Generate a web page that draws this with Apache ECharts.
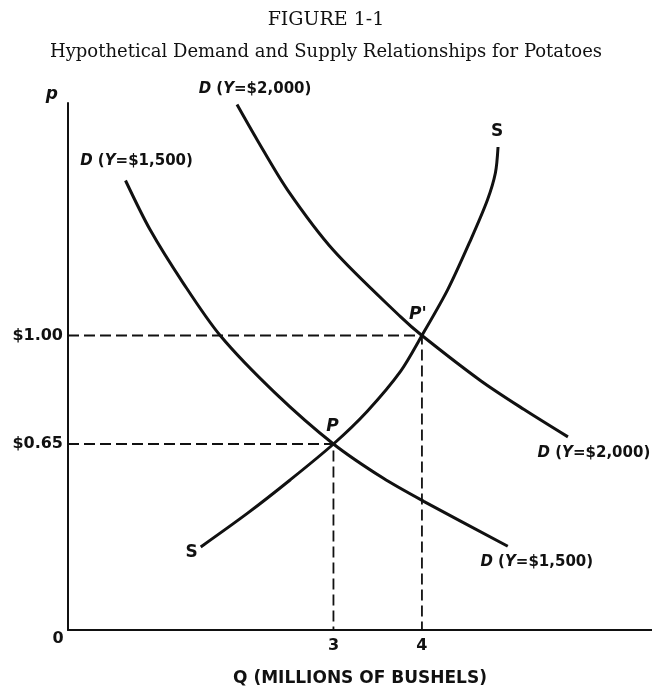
<!DOCTYPE html>
<html>
<head>
<meta charset="utf-8">
<script src="https://cdn.jsdelivr.net/npm/echarts@6/dist/echarts.min.js"></script>
<style>
  html, body { margin: 0; padding: 0; background: #fff; }
  #chart { width: 652px; height: 686px; }
</style>
</head>
<body>
<div id="chart"></div>
<script>
// ---------- data ----------
// demand with income $1,500
const d1500Q = [0.65, 0.93, 1.30, 1.72, 2.34, 3.00, 3.56, 4.02, 4.97]
const d1500P = [1.50, 1.34, 1.17, 1.00, 0.815, 0.65, 0.54, 0.465, 0.32]
// demand with income $2,000
const d2000Q = [1.91, 2.14, 2.48, 3.00, 3.76, 4.00, 4.66, 5.15, 5.65]
const d2000P = [1.745, 1.63, 1.47, 1.275, 1.06, 1.00, 0.855, 0.762, 0.673]
// supply
const supplyQ = [1.50, 2.03, 2.51, 3.00, 3.38, 3.76, 4.00, 4.29, 4.55, 4.74, 4.83, 4.86]
const supplyP = [0.318, 0.427, 0.534, 0.65, 0.755, 0.885, 1.00, 1.147, 1.308, 1.437, 1.524, 1.608]
// equilibria P and P'
const eqQ = [3, 4]
const eqP = [0.65, 1.00]
const eqNames = ['P', "P'"]
// axis ticks
const qTicks = [3, 4]
const priceTicks = [0.65, 1.00]

const Q_MIN = 0, Q_MAX = 6.6
const P_MIN = 0.05, P_MAX = 1.75

const pairs = (xs, ys) => xs.map((x, i) => [x, ys[i]])

const INK = '#111'
const SANS = 'DejaVu Sans'
const labelFont = { fontFamily: SANS, fontWeight: 'bold', fontSize: 15, color: INK }
const rich = {
  it: { fontFamily: SANS, fontWeight: 'bold', fontStyle: 'italic', fontSize: 15, color: INK },
  n: { fontFamily: SANS, fontWeight: 'bold', fontSize: 15, color: INK },
}
const demandText = (inc) => '{it|D} {n|(}{it|Y}{n|=$' + inc + ')}'

// markPoint helper: invisible anchor with a text label shifted by offset
function tag(coord, text, offset, extra) {
  return {
    coord,
    symbol: 'circle',
    symbolSize: 0,
    label: Object.assign({ show: true, formatter: text, offset, rich, position: 'inside' }, labelFont, extra || {}),
  }
}

const curve = (name, data, marks) => ({
  name,
  type: 'line',
  data,
  smooth: 0.3,
  showSymbol: false,
  symbol: 'none',
  lineStyle: { color: INK, width: 3 },
  z: 3,
  markPoint: { symbolSize: 0, silent: true, data: marks },
})

const d1500 = pairs(d1500Q, d1500P)
const d2000 = pairs(d2000Q, d2000P)
const supply = pairs(supplyQ, supplyP)

const guides = eqQ.map((q, i) => ({
  type: 'line',
  data: [[Q_MIN, eqP[i]], [q, eqP[i]], [q, P_MIN]],
  showSymbol: false,
  symbol: 'none',
  lineStyle: { color: INK, width: 1.8, type: [11, 5] },
  z: 2,
  markPoint: {
    symbolSize: 0,
    silent: true,
    data: [tag([q, eqP[i]], eqNames[i], i === 0 ? [-1, -17] : [-4, -21],
      { fontStyle: 'italic', fontSize: 17 })],
  },
}))

const option = {
  animation: false,
  backgroundColor: '#fff',
  title: [
    {
      text: 'FIGURE 1-1',
      left: 'center', top: 6,
      textStyle: { fontFamily: 'DejaVu Serif', fontWeight: 'normal', fontSize: 19, color: INK },
    },
    {
      text: 'Hypothetical Demand and Supply Relationships for Potatoes',
      left: 'center', top: 38,
      textStyle: { fontFamily: 'DejaVu Serif', fontWeight: 'normal', fontSize: 18, color: INK },
    },
  ],
  // fixed plot box, names/labels are allowed to sit outside it
  grid: { left: 68, right: 0, top: 103, bottom: 56, containLabel: false, outerBoundsMode: 'none' },
  xAxis: {
    type: 'value',
    min: Q_MIN, max: Q_MAX,
    name: 'Q (MILLIONS OF BUSHELS)',
    nameLocation: 'middle',
    nameGap: 40,
    nameTextStyle: Object.assign({}, labelFont, { fontSize: 17 }),
    axisLine: { onZero: false, lineStyle: { color: INK, width: 2 } },
    axisTick: { show: false },
    splitLine: { show: false },
    axisLabel: Object.assign({ customValues: qTicks, margin: 8, formatter: v => String(v) }, labelFont, { fontSize: 16 }),
  },
  yAxis: {
    type: 'value',
    min: P_MIN, max: P_MAX,
    name: 'p',
    nameLocation: 'end',
    nameGap: 0,
    nameTextStyle: Object.assign({}, labelFont, { fontStyle: 'italic', fontSize: 17, align: 'right', verticalAlign: 'bottom', padding: [0, 10, 0, 0] }),
    axisLine: { onZero: false, lineStyle: { color: INK, width: 2 } },
    axisTick: { show: false },
    splitLine: { show: false },
    axisLabel: Object.assign({ customValues: priceTicks, margin: 5, formatter: v => '$' + v.toFixed(2) }, labelFont, { fontSize: 16 }),
  },
  series: [
    curve('D1500', d1500, [
      tag(d1500[0], demandText('1,500'), [11, -19]),
      tag(d1500[d1500.length - 1], demandText('1,500'), [29, 16]),
    ]),
    curve('D2000', d2000, [
      tag(d2000[0], demandText('2,000'), [18, -15]),
      tag(d2000[d2000.length - 1], demandText('2,000'), [26, 16]),
    ]),
    curve('S', supply, [
      tag(supply[supply.length - 1], 'S', [-1, -15], { fontSize: 17 }),
      tag(supply[0], 'S', [-9, 6], { fontSize: 17 }),
    ]),
    ...guides,
    {
      // origin label
      type: 'line',
      data: [],
      markPoint: { symbolSize: 0, silent: true, data: [tag([Q_MIN, P_MIN], '0', [-10, 9], { fontSize: 16 })] },
    },
  ],
}

const chart = echarts.init(document.getElementById('chart'), null, { renderer: 'canvas' })
chart.setOption(option)
</script>
</body>
</html>
